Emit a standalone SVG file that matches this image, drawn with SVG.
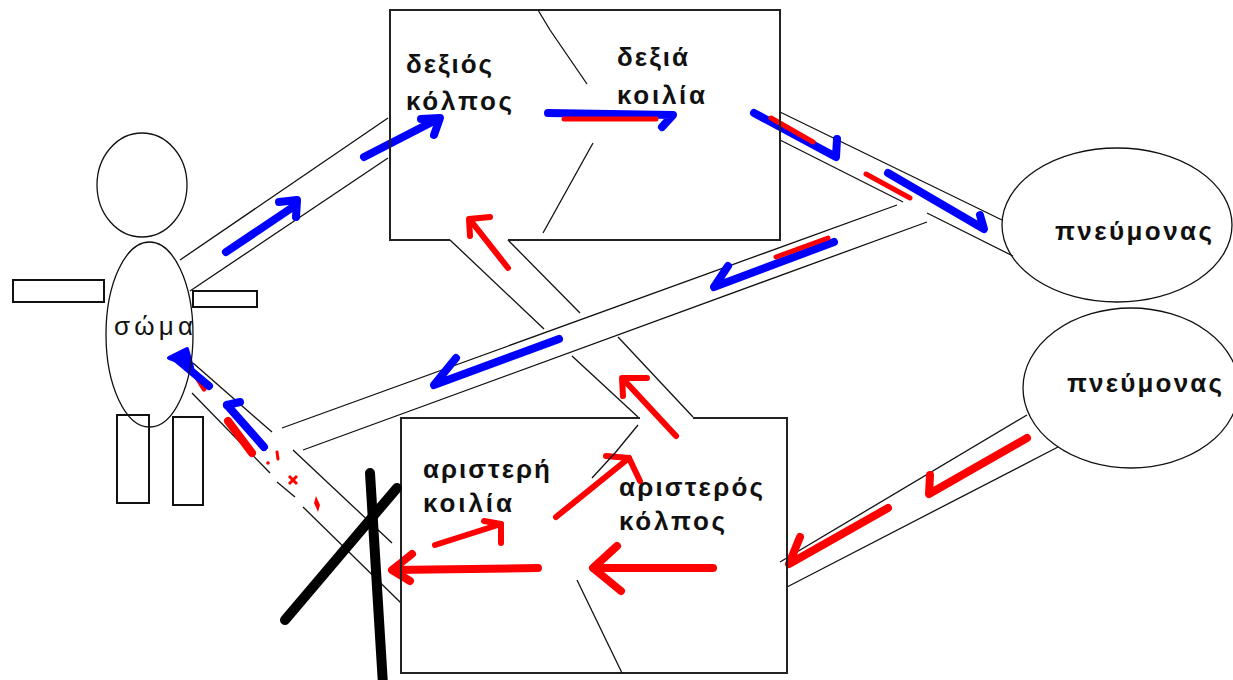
<svg xmlns="http://www.w3.org/2000/svg" width="1233" height="680" viewBox="0 0 1233 680">
<style>
.ln{stroke:#111;stroke-width:1.3;fill:none}
.bx{stroke:#222;stroke-width:2;fill:none}
.b{stroke:#0000ff;stroke-width:8;fill:none;stroke-linecap:round;stroke-linejoin:round}
.r{stroke:#ff0000;stroke-width:5;fill:none;stroke-linecap:round;stroke-linejoin:round}
.rt{stroke:#ff0000;stroke-width:8;fill:none;stroke-linecap:round;stroke-linejoin:round}
.rs{stroke:#ff0000;stroke-width:6;fill:none;stroke-linecap:round;stroke-linejoin:round}
.k{stroke:#000;stroke-width:10;fill:none;stroke-linecap:round}
.t{font-family:"Liberation Sans",Arial,sans-serif;font-weight:bold;font-size:26px;fill:#111}
.tn{font-family:"Liberation Sans",Arial,sans-serif;font-size:26px;fill:#111}
</style>
<rect width="1233" height="680" fill="#fff"/>

<g id="connectors">
  <!-- channel A: body to right atrium -->
  <line class="ln" x1="180" y1="260" x2="388" y2="118"/>
  <line class="ln" x1="190" y1="291" x2="388" y2="158"/>
  <!-- channel B: right ventricle to lung -->
  <line class="ln" x1="780" y1="112" x2="1002" y2="220"/>
  <line class="ln" x1="780" y1="140" x2="903" y2="202"/>
  <line class="ln" x1="927" y1="213" x2="1013" y2="256"/>
  <!-- channel C: lung to body (long) -->
  <line class="ln" x1="897" y1="205" x2="282" y2="428"/>
  <line class="ln" x1="927" y1="222" x2="303" y2="450"/>
  <!-- channel D: left atrium up to top box (crossing) -->
  <line class="ln" x1="450" y1="240" x2="544" y2="329"/>
  <line class="ln" x1="572" y1="356" x2="638" y2="417"/>
  <line class="ln" x1="508" y1="240" x2="580" y2="313"/>
  <line class="ln" x1="618" y1="337" x2="693" y2="417"/>
  <!-- channel E: body to left ventricle -->
  <line class="ln" x1="193" y1="363" x2="272" y2="432"/>
  <line class="ln" x1="293" y1="450" x2="392" y2="543"/>
  <line class="ln" x1="192" y1="393" x2="270" y2="473"/>
  <line class="ln" x1="277" y1="482" x2="295" y2="497"/>
  <line class="ln" x1="303" y1="507" x2="401" y2="603"/>
  <!-- channel F: lung to left atrium -->
  <line class="ln" x1="1027" y1="415" x2="780" y2="562"/>
  <line class="ln" x1="1058" y1="447" x2="787" y2="587"/>

  <!-- blue arrows channel A -->
  <line class="b" x1="226" y1="252" x2="293" y2="207"/>
  <polyline class="b" points="279,202 297,200 296,217"/>
  <line class="b" x1="364" y1="157" x2="434" y2="121"/>
  <polyline class="b" points="421,119 440,118 434,135"/>
  <!-- top box internal -->
  <polyline class="b" points="548,113 673,115 662,127"/>
  <line class="r" x1="564" y1="119" x2="656" y2="119"/>
  <!-- channel B -->
  <polyline class="b" points="754,113 836,157 837,139"/>
  <line class="r" x1="771" y1="118" x2="813" y2="142"/>
  <polyline class="b" points="888,173 984,229 980,215"/>
  <line class="r" x1="866" y1="174" x2="910" y2="198"/>
  <!-- channel C -->
  <polyline class="b" points="834,242 714,287 728,266"/>
  <line class="r" x1="776" y1="257" x2="828" y2="238"/>
  <polyline class="b" points="559,339 434,385 456,358"/>
  <!-- channel E -->
  <line class="r" x1="191" y1="368" x2="204" y2="389"/>
  <line class="b" x1="209" y1="386" x2="178" y2="360"/>
  <polygon points="169,358 187,349 192,367" fill="#0000ff" stroke="#0000ff" stroke-width="4" stroke-linejoin="round"/>
  <line class="rt" x1="228" y1="421" x2="252" y2="453"/>
  <line class="b" x1="264" y1="447" x2="227" y2="405"/>
  <polyline class="b" points="227,405 240,402"/>
  <line class="r" x1="277" y1="452" x2="278" y2="459" style="stroke-width:3"/>
  <circle cx="268" cy="463" r="1.8" fill="#ff0000"/>
  <path d="M289,476 L297,484 M297,476 L289,484" stroke="#ff0000" stroke-width="3"/>
  <polygon points="316,496 320,505 318,512 314,503" fill="#ff0000"/>
  <!-- channel D red -->
  <line class="rs" x1="508" y1="268" x2="471" y2="221"/>
  <polyline class="rs" points="490,217 469,219 470,236"/>
  <line class="rs" x1="676" y1="436" x2="624" y2="380"/>
  <polyline class="rs" points="647,378 622,378 623,396"/>
  <!-- channel F red -->
  <polyline class="rt" points="1027,438 929,494 930,475"/>
  <polyline class="rt" points="888,508 789,564 800,537"/>
  <!-- bottom box internal red -->
  <line class="rt" x1="713" y1="568" x2="594" y2="568"/>
  <polyline class="rt" points="617,546 593,568 621,591"/>
  <line class="rt" x1="538" y1="568" x2="393" y2="570"/>
  <polyline class="rt" points="412,554 392,570 410,581"/>
  <polyline class="rs" points="435,545 501,524 501,543"/>
  <line class="rs" x1="484" y1="521" x2="501" y2="524"/>
  <line class="rs" x1="556" y1="517" x2="629" y2="458"/>
  <polyline class="rs" points="606,456 629,458 640,481"/>
</g>

<g id="topbox">
  <polyline class="bx" points="450,240 390,240 390,10 780,10 780,240 508,240"/>
  <polyline class="ln" points="538,10 550,30 587,84"/>
  <line class="ln" x1="593" y1="143" x2="543" y2="233"/>
  <text class="t" x="406" y="73" textLength="86" lengthAdjust="spacing">δεξιός</text>
  <text class="t" x="406" y="110" textLength="106" lengthAdjust="spacing">κόλπος</text>
  <text class="t" x="617" y="66" textLength="71" lengthAdjust="spacing">δεξιά</text>
  <text class="t" x="617" y="104" textLength="88" lengthAdjust="spacing">κοιλία</text>
</g>

<g id="bottombox">
  <polyline class="bx" points="640,418 401,418 401,673 787,673 787,418 693,418"/>
  <polyline class="ln" points="638,425 615,453 592,478"/>
  <line class="ln" x1="577" y1="580" x2="622" y2="673"/>
  <text class="t" x="423" y="478" textLength="127" lengthAdjust="spacing">αριστερή</text>
  <text class="t" x="423" y="512" textLength="89" lengthAdjust="spacing">κοιλία</text>
  <text class="t" x="619" y="496" textLength="144" lengthAdjust="spacing">αριστερός</text>
  <text class="t" x="619" y="530" textLength="106" lengthAdjust="spacing">κόλπος</text>
</g>

<g id="lung1">
  <ellipse class="ln" cx="1117" cy="225" rx="115" ry="77"/>
  <text class="t" x="1055" y="240" textLength="157" lengthAdjust="spacing">πνεύμονας</text>
</g>

<g id="lung2">
  <ellipse class="ln" cx="1131" cy="388" rx="108" ry="80"/>
  <text class="t" x="1067" y="392" textLength="155" lengthAdjust="spacing">πνεύμονας</text>
</g>

<g id="body">
  <ellipse class="ln" cx="142" cy="185" rx="45" ry="52"/>
  <ellipse class="ln" cx="149.5" cy="334.5" rx="43.5" ry="92.5"/>
  <rect class="ln" x="13" y="280" width="91" height="22" style="stroke-width:2"/>
  <rect class="ln" x="193" y="291" width="64" height="16" style="stroke-width:2"/>
  <rect class="ln" x="117" y="415" width="32" height="88" style="stroke-width:2"/>
  <rect class="ln" x="173" y="417" width="30" height="88" style="stroke-width:2"/>
  <text class="tn" x="114" y="335" textLength="79" lengthAdjust="spacing">σώμα</text>
</g>

<g id="cross">
  <line class="k" x1="370" y1="473" x2="383" y2="685"/>
  <line class="k" x1="285" y1="620" x2="397" y2="488"/>
</g>
</svg>
